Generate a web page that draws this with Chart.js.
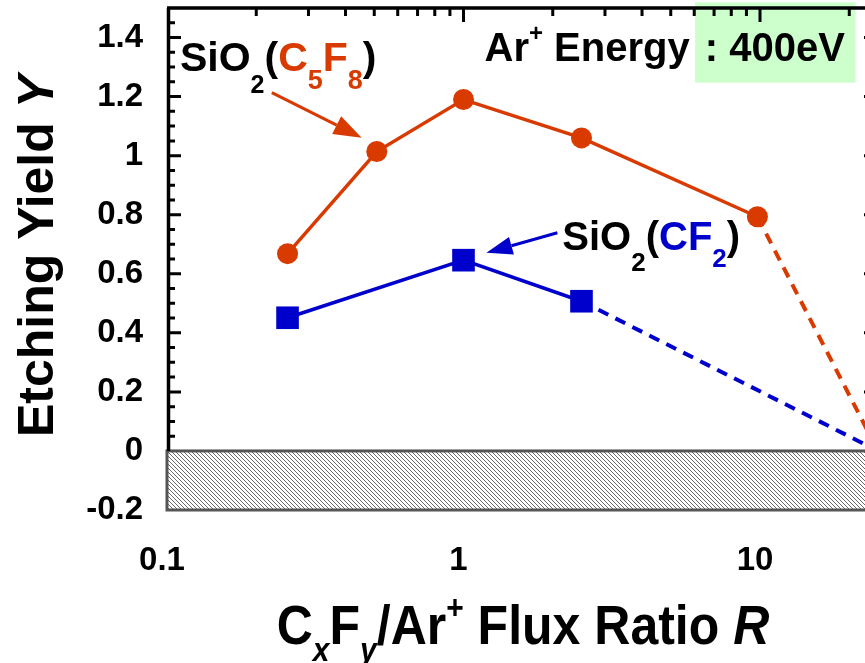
<!DOCTYPE html>
<html><head><meta charset="utf-8">
<script src="https://cdn.jsdelivr.net/npm/chart.js@4"></script>
<style>
html,body{margin:0;padding:0;overflow:hidden;background:#fff;width:865px;height:663px}
#wrap{position:absolute;left:0;top:0;width:880px;height:663px}
</style></head><body><div id="wrap"><canvas id="c" width="880" height="663"></canvas></div>
<script>
// ---- data ----
const ratioC5F8 = [0.255, 0.51, 1.0, 2.5, 9.8];
const yieldC5F8 = [0.668, 1.014, 1.19, 1.06, 0.793];
const ratioCF2 = [0.255, 1.0, 2.5];
const yieldCF2 = [0.451, 0.646, 0.507];
const ratioC5F8Ext = [9.8, 25];
const yieldC5F8Ext = [0.793, 0];
const ratioCF2Ext = [2.5, 25];
const yieldCF2Ext = [0.507, 0];
const xTickValues = [0.1, 1, 10];
const xTickLabels = ['0.1', '1', '10'];
const yTickValues = [-0.2, 0, 0.2, 0.4, 0.6, 0.8, 1, 1.2, 1.4];
const yTickLabels = ['-0.2', '0', '0.2', '0.4', '0.6', '0.8', '1', '1.2', '1.4'];
const topMinorTicks = [0.2,0.3,0.4,0.5,0.6,0.7,0.8,0.9,2,3,4,5,6,7,8,9,20];
const topMajorTicks = [1, 10];

const FONT = '"Liberation Sans", Arial, Helvetica, sans-serif';
const ORANGE = '#d83a00';
const BLUE = '#0000cc';

const pts = (xs, ys) => xs.map((x, i) => ({x, y: ys[i]}));

function richText(ctx, x, y, parts) {
  let cx = x;
  for (const p of parts) {
    ctx.font = (p.italic ? 'italic ' : '') + 'bold ' + p.size + 'px ' + FONT;
    ctx.fillStyle = p.color || '#000';
    ctx.fillText(p.t, cx, y + (p.dy || 0));
    cx += ctx.measureText(p.t).width + (p.gap || 0);
  }
  return cx - x;
}
function measureRich(ctx, parts) {
  let w = 0;
  for (const p of parts) {
    ctx.font = (p.italic ? 'italic ' : '') + 'bold ' + p.size + 'px ' + FONT;
    w += ctx.measureText(p.t).width + (p.gap || 0);
  }
  return w;
}
function arrow(ctx, x1, y1, x2, y2, color, hl, hw, lw) {
  const ang = Math.atan2(y2 - y1, x2 - x1);
  const bx = x2 - hl * Math.cos(ang), by = y2 - hl * Math.sin(ang);
  ctx.save();
  ctx.strokeStyle = color; ctx.fillStyle = color; ctx.lineWidth = lw;
  ctx.beginPath(); ctx.moveTo(x1, y1); ctx.lineTo(bx, by); ctx.stroke();
  ctx.beginPath();
  ctx.moveTo(x2, y2);
  ctx.lineTo(bx + hw * Math.sin(ang), by - hw * Math.cos(ang));
  ctx.lineTo(bx - hw * Math.sin(ang), by + hw * Math.cos(ang));
  ctx.closePath(); ctx.fill();
  ctx.restore();
}

// hatch pattern
const pc = document.createElement('canvas'); pc.width = 4; pc.height = 4;
const pcx = pc.getContext('2d');
pcx.fillStyle = '#fff'; pcx.fillRect(0, 0, 4, 4);
pcx.strokeStyle = '#6a6a6a'; pcx.lineWidth = 1;
pcx.beginPath();
pcx.moveTo(0, 0); pcx.lineTo(4, 4);
pcx.moveTo(-1, 3); pcx.lineTo(1, 5);
pcx.moveTo(3, -1); pcx.lineTo(5, 1);
pcx.stroke();

const deco = {
  id: 'deco',
  beforeDatasetsDraw(chart) {
    const {ctx, chartArea: a, scales: {x, y}} = chart;
    ctx.save();
    // green energy box
    ctx.fillStyle = '#ccffcc';
    const gx1 = x.getPixelForValue(6.04), gx2 = x.getPixelForValue(21.0);
    const gy1 = y.getPixelForValue(1.519), gy2 = y.getPixelForValue(1.247);
    ctx.fillRect(gx1, gy1, gx2 - gx1, gy2 - gy1);
    // hatched negative region
    const y0 = y.getPixelForValue(0), yb = y.getPixelForValue(-0.2);
    ctx.fillStyle = ctx.createPattern(pc, 'repeat');
    ctx.fillRect(a.left, y0, a.right - a.left, yb - y0);
    ctx.strokeStyle = '#555'; ctx.lineWidth = 3;
    ctx.strokeRect(a.left, y0, a.right - a.left + 5, yb - y0);
    // axes
    ctx.strokeStyle = '#000'; ctx.lineWidth = 3.5;
    ctx.beginPath();
    ctx.moveTo(a.left + 1.5, y0); ctx.lineTo(a.left + 1.5, a.top);
    ctx.moveTo(a.left, a.top); ctx.lineTo(a.right, a.top);
    ctx.moveTo(a.right, a.top); ctx.lineTo(a.right, y0);
    ctx.stroke();
    ctx.lineWidth = 3;
    ctx.beginPath();
    for (const v of topMinorTicks) {
      const px = x.getPixelForValue(v);
      ctx.moveTo(px, a.top); ctx.lineTo(px, a.top + 8);
    }
    for (const v of topMajorTicks) {
      const px = x.getPixelForValue(v);
      ctx.moveTo(px, a.top); ctx.lineTo(px, a.top + 14);
    }
    for (let k = 1; k <= 29; k++) {
      const v = k * 0.05;
      const py = y.getPixelForValue(v);
      const major = (k % 4 === 0);
      const len = major ? 14 : 8;
      ctx.moveTo(a.left, py); ctx.lineTo(a.left + len, py);
      ctx.moveTo(a.right, py); ctx.lineTo(a.right - len, py);
    }
    ctx.stroke();
    ctx.restore();
  },
  afterDraw(chart) {
    const {ctx, scales: {x, y}} = chart;
    ctx.save();
    ctx.textBaseline = 'alphabetic';
    ctx.textAlign = 'left';
    // arrows
    arrow(ctx, x.getPixelForValue(0.2257), y.getPixelForValue(1.2136),
      x.getPixelForValue(0.4535), y.getPixelForValue(1.061), ORANGE, 28, 10, 3);
    arrow(ctx, x.getPixelForValue(2.073), y.getPixelForValue(0.739),
      x.getPixelForValue(1.195), y.getPixelForValue(0.671), BLUE, 26, 9, 3);
    // SiO2(C5F8)
    richText(ctx, x.getPixelForValue(0.1106), y.getPixelForValue(1.285), [
      {t: 'SiO', size: 41},
      {t: '2', size: 25, dy: 22},
      {t: '(', size: 41},
      {t: 'C', size: 41, color: ORANGE},
      {t: '5', size: 27, dy: 18, color: ORANGE},
      {t: 'F', size: 41, color: ORANGE},
      {t: '8', size: 27, dy: 18, color: ORANGE},
      {t: ')', size: 41}
    ]);
    // SiO2(CF2)
    richText(ctx, x.getPixelForValue(2.154), y.getPixelForValue(0.681), [
      {t: 'SiO', size: 40},
      {t: '2', size: 26, dy: 21},
      {t: '(', size: 40},
      {t: 'C', size: 40, color: BLUE},
      {t: 'F', size: 40, color: BLUE},
      {t: '2', size: 26, dy: 17, color: BLUE},
      {t: ')', size: 40}
    ]);
    // Ar+ Energy : 400eV
    richText(ctx, x.getPixelForValue(1.177), y.getPixelForValue(1.319), [
      {t: 'Ar', size: 40},
      {t: '+', size: 24, dy: -20},
      {t: ' Energy ', size: 40, gap: 4},
      {t: ': 400eV', size: 40}
    ]);
    // y axis title
    const yt = [
      {t: 'Etching Yield ', size: 50},
      {t: 'Y', size: 50, italic: true}
    ];
    ctx.save();
    ctx.translate(53, 256);
    ctx.rotate(-Math.PI / 2);
    const wy = measureRich(ctx, yt);
    richText(ctx, -wy / 2, 0, yt);
    ctx.restore();
    // x axis title
    const xt = [
      {t: 'C', size: 50},
      {t: 'x', size: 30, dy: 15, italic: true},
      {t: 'F', size: 50},
      {t: 'y', size: 30, dy: 15, italic: true},
      {t: '/Ar', size: 50},
      {t: '+', size: 30, dy: -22},
      {t: ' Flux Ratio ', size: 50},
      {t: 'R', size: 50, italic: true}
    ];
    ctx.save();
    ctx.translate(523, 644);
    ctx.scale(1, 1.12);
    const wx = measureRich(ctx, xt);
    richText(ctx, -wx / 2, 0, xt);
    ctx.restore();
    ctx.restore();
  }
};

new Chart(document.getElementById('c'), {
  type: 'line',
  data: {
    datasets: [
      {data: pts(ratioC5F8, yieldC5F8), borderColor: ORANGE, backgroundColor: ORANGE,
       borderWidth: 3.5, pointRadius: 10.5, pointHoverRadius: 10.5, pointStyle: 'circle',
       pointBorderWidth: 0, tension: 0},
      {data: pts(ratioCF2, yieldCF2), borderColor: BLUE, backgroundColor: BLUE,
       borderWidth: 3.5, pointRadius: 16, pointHoverRadius: 16, pointStyle: 'rect',
       pointBorderWidth: 0, tension: 0},
      {data: pts(ratioC5F8Ext, yieldC5F8Ext), borderColor: ORANGE, borderWidth: 4,
       borderDash: [11, 8], pointRadius: 0, tension: 0},
      {data: pts(ratioCF2Ext, yieldCF2Ext), borderColor: BLUE, borderWidth: 4,
       borderDash: [11, 8], pointRadius: 0, tension: 0}
    ]
  },
  options: {
    responsive: false,
    animation: false,
    devicePixelRatio: 1,
    layout: {autoPadding: false, padding: {top: 8, right: 2, left: 0, bottom: 0}},
    plugins: {legend: {display: false}, tooltip: {enabled: false}},
    events: [],
    scales: {
      x: {
        type: 'logarithmic', min: 0.1, max: 25,
        grid: {display: false, drawTicks: false}, border: {display: false},
        afterBuildTicks: s => { s.ticks = xTickValues.map(v => ({value: v})); },
        afterFit: s => { s.height = 663 - 510; s.paddingLeft = 0; s.paddingRight = 0; s.paddingTop = 0; s.paddingBottom = 0; },
        ticks: {
          autoSkip: false, maxRotation: 0, padding: 31, labelOffset: -5, color: '#000',
          font: {family: FONT, size: 33, weight: 'bold'},
          callback: v => {
            const i = xTickValues.findIndex(t => Math.abs(t - v) < 1e-6 * t);
            return i >= 0 ? xTickLabels[i] : '';
          }
        }
      },
      y: {
        type: 'linear', min: -0.2, max: 1.5,
        grid: {display: false, drawTicks: false}, border: {display: false},
        afterBuildTicks: s => { s.ticks = yTickValues.map(v => ({value: v})); },
        afterFit: s => { s.width = 167; s.paddingLeft = 0; s.paddingRight = 0; s.paddingTop = 0; s.paddingBottom = 0; },
        ticks: {
          padding: 24, color: '#000',
          font: {family: FONT, size: 33, weight: 'bold'},
          callback: v => {
            const i = yTickValues.findIndex(t => Math.abs(t - v) < 1e-6);
            return i >= 0 ? yTickLabels[i] : '';
          }
        }
      }
    }
  },
  plugins: [deco]
});
</script></body></html>
